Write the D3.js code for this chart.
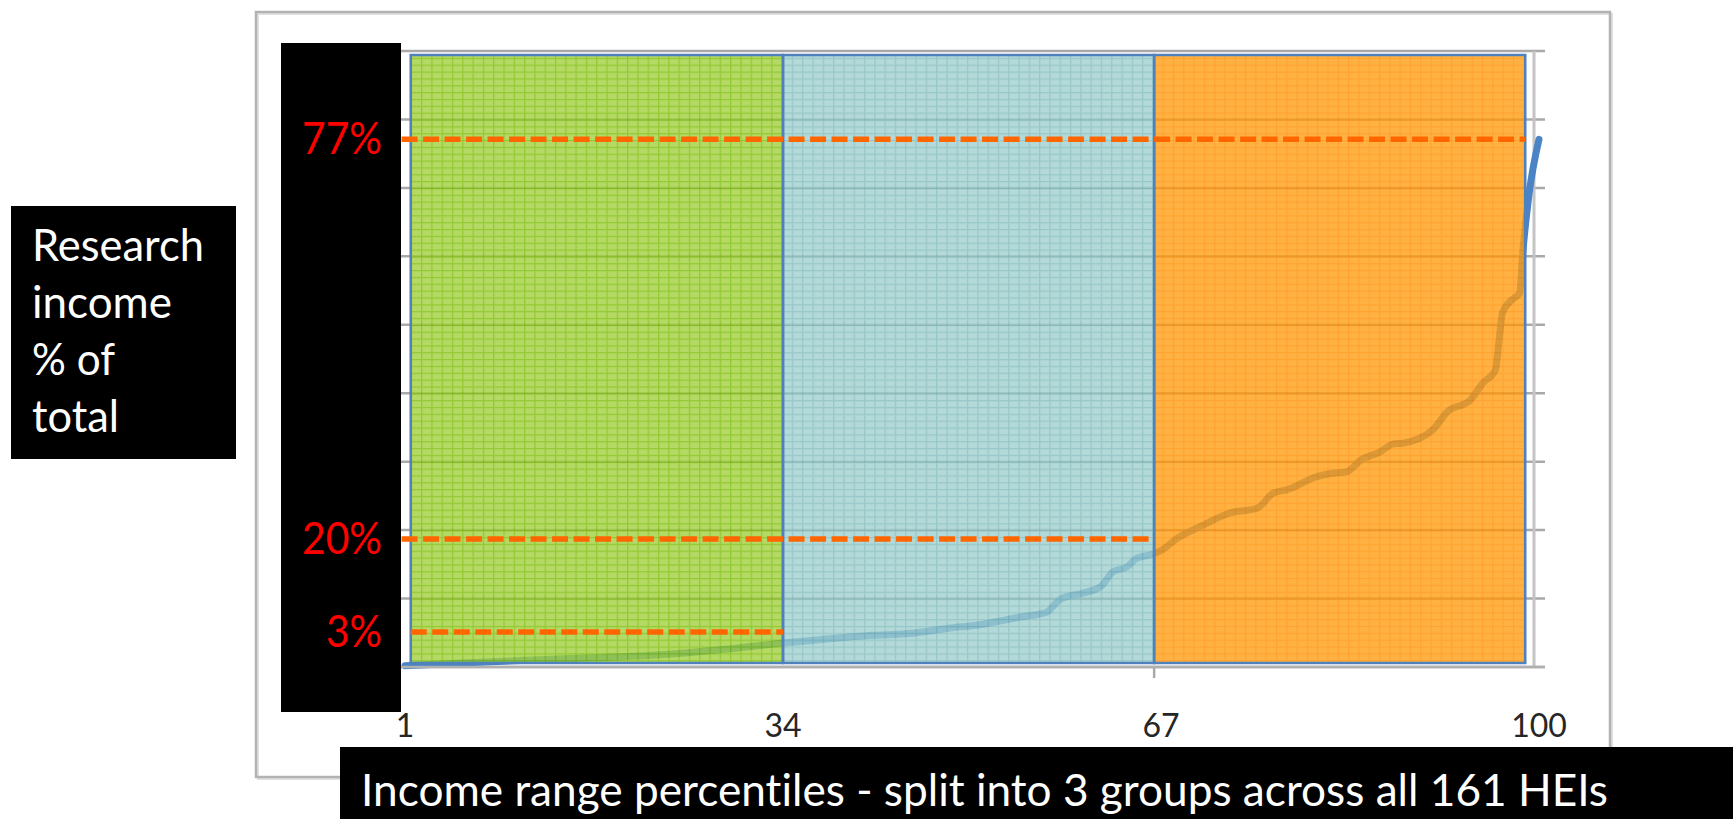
<!DOCTYPE html>
<html>
<head>
<meta charset="utf-8">
<script src="https://cdn.jsdelivr.net/npm/d3@7"></script>
<style>
  html, body { margin: 0; padding: 0; background: #ffffff; }
  svg { display: block; }
  text { font-variant-ligatures: none; }
</style>
</head>
<body>
<svg id="chart" width="1733" height="819"></svg>
<script>
// ---------------- DATA ----------------
// Curve: percentile position (x) and research income % (y, value-axis units)
const curvePercentile = [1, 6, 15, 23, 29, 34, 40.7, 45.7, 48.6, 50.9, 52.9, 54.7, 57.0, 58.2, 60.2, 61.7,
  62.8, 64.0, 64.9, 66.3, 67.1, 68.4, 70.4, 73.0, 75.4, 76.8, 78.0, 80.6, 82.0, 83.2, 84.4, 86.1,
  87.3, 88.1, 90.7, 92.0, 94.0, 95.1, 96.2, 96.5, 96.8, 97.6, 98.3, 98.6, 99.1, 100];
const curveValue = [0.2, 0.6, 1.2, 1.75, 2.6, 3.5, 4.5, 5.0, 5.7, 6.1, 6.7, 7.3, 8.0, 9.9, 10.8, 11.7,
  13.9, 14.6, 15.9, 16.5, 17.1, 18.8, 20.5, 22.5, 23.2, 25.4, 25.9, 27.8, 28.3, 28.5, 30.2, 31.4,
  32.6, 32.7, 34.6, 37.3, 39.0, 41.5, 43.4, 47.5, 51.7, 53.6, 54.6, 60.9, 68.7, 77.1];

// Value-axis gridline values
const yTicks = [0, 10, 20, 30, 40, 50, 60, 70, 80, 90];

// Category tick labels
const xTickLabels = [1, 34, 67, 100];

// Three income groups (percentile extents)
const groupStart = [1.5, 34, 66.4];
const groupEnd = [34, 66.4, 98.8];
const groupFill = ["#a2d03e", "#a0cfcf", "#ff9f13"];
const groupGrid = ["#78bb00", "#7fbaba", "#ff8c00"];

// Reference (dashed) levels
const refLabels = ["77%", "20%", "3%"];
const refLevel = [77.1, 18.7, 5.1];
const refStart = [0.7, 0.7, 1.5];
const refEnd = [98.8, 66.4, 34];

// Texts
const yTitleLines = ["Research", "income", "% of", "total"];
const xTitle = "Income range percentiles - split into 3 groups across all 161 HEIs";

// ---------------- LAYOUT ----------------
const svg = d3.select("#chart");
const FONT = "Lato, 'Open Sans', 'Noto Sans', sans-serif";

const x = d3.scaleLinear().domain([1, 100]).range([405, 1539]);
const y = d3.scaleLinear().domain([0, 90]).range([667, 51]);

const gridLeft = 385, tickRight = 1545, axisX = 1534;

// Outer chart frame
svg.append("rect").attr("x", 258).attr("y", 14).attr("width", 1354).attr("height", 765)
  .attr("fill", "none").attr("stroke", "#e0e0e0").attr("stroke-width", 2);
svg.append("rect").attr("x", 256).attr("y", 12).attr("width", 1354).attr("height", 765)
  .attr("fill", "none").attr("stroke", "#b2b2b2").attr("stroke-width", 2.5);

// Patterns for fills
const defs = svg.append("defs");
const cellW = 10.3, cellH = (y(0) - y(10)) / 10;
groupFill.forEach((c, i) => {
  const p = defs.append("pattern").attr("id", "pat" + i)
    .attr("patternUnits", "userSpaceOnUse")
    .attr("x", x(groupStart[0])).attr("y", y(90))
    .attr("width", cellW).attr("height", cellH);
  p.append("rect").attr("width", cellW).attr("height", cellH).attr("fill", c);
  p.append("path").attr("d", `M0,0.6H${cellW}M0.6,0V${cellH}`)
    .attr("stroke", groupGrid[i]).attr("stroke-width", 1.3).attr("fill", "none");
});

// Gridlines
svg.append("g").selectAll("line").data(yTicks).join("line")
  .attr("x1", gridLeft).attr("x2", tickRight)
  .attr("y1", d => y(d)).attr("y2", d => y(d))
  .attr("stroke", "#a9a9a9").attr("stroke-width", 2.5);

// Right value axis line
svg.append("line").attr("x1", axisX).attr("x2", axisX)
  .attr("y1", y(90)).attr("y2", y(0))
  .attr("stroke", "#c4c4c4").attr("stroke-width", 3);

// Bottom axis tick
svg.append("line").attr("x1", x(groupEnd[1])).attr("x2", x(groupEnd[1]))
  .attr("y1", y(0)).attr("y2", y(0) + 11)
  .attr("stroke", "#a9a9a9").attr("stroke-width", 2.5);

// Curve
const pts = curvePercentile.map((p, i) => [p, curveValue[i]]);
svg.append("path").datum(pts)
  .attr("d", d3.line().x(d => x(d[0])).y(d => y(d[1])).curve(d3.curveMonotoneX))
  .attr("fill", "none").attr("stroke", "#4a84c6").attr("stroke-width", 7)
  .attr("stroke-linecap", "round").attr("stroke-linejoin", "round");

// Group regions (semi-transparent over the line)
const inset = 4;
const groups = groupStart.map((s, i) => ({ s, e: groupEnd[i], i }));
svg.append("g").selectAll("rect").data(groups).join("rect")
  .attr("x", d => x(d.s)).attr("width", d => x(d.e) - x(d.s))
  .attr("y", y(90) + inset).attr("height", y(0) - y(90) - 2 * inset)
  .attr("fill", d => `url(#pat${d.i})`).attr("opacity", 0.8);
svg.append("g").selectAll("rect").data(groups).join("rect")
  .attr("x", d => x(d.s)).attr("width", d => x(d.e) - x(d.s))
  .attr("y", y(90) + inset).attr("height", y(0) - y(90) - 2 * inset)
  .attr("fill", "none").attr("stroke", "#4f81bd").attr("stroke-width", 2.5);

// Bottom axis line
svg.append("line").attr("x1", 400).attr("x2", tickRight)
  .attr("y1", y(0)).attr("y2", y(0))
  .attr("stroke", "#b0b0b0").attr("stroke-width", 2.5);

// Dashed reference lines
svg.append("g").selectAll("line").data(refLevel).join("line")
  .attr("x1", (d, i) => x(refStart[i])).attr("x2", (d, i) => x(refEnd[i]))
  .attr("y1", d => y(d)).attr("y2", d => y(d))
  .attr("stroke", "#ff6600").attr("stroke-width", 5.5)
  .attr("stroke-dasharray", "16 5.5");

// Black column behind the red labels
svg.append("rect").attr("x", 281).attr("y", 43).attr("width", 120).attr("height", 669).attr("fill", "#000");

// Red level labels
svg.append("g").selectAll("text").data(refLabels).join("text")
  .attr("x", 382).attr("y", (d, i) => y(refLevel[i]) + 15)
  .attr("text-anchor", "end")
  .attr("font-family", FONT).attr("font-size", 44)
  .attr("fill", "#ff0000")
  .attr("textLength", d => d.length === 3 ? 80 : 56)
  .attr("lengthAdjust", "spacingAndGlyphs")
  .text(d => d);

// Left title box
svg.append("rect").attr("x", 11).attr("y", 206).attr("width", 225).attr("height", 253).attr("fill", "#000");
const yTitleWidths = [172, 140, 83, 87];
svg.append("g").selectAll("text").data(yTitleLines).join("text")
  .attr("x", 32).attr("y", (d, i) => 261 + i * 57)
  .attr("font-family", FONT).attr("font-size", 44).attr("fill", "#fff")
  .attr("textLength", (d, i) => yTitleWidths[i]).attr("lengthAdjust", "spacingAndGlyphs")
  .text(d => d);

// X tick labels
svg.append("g").selectAll("text").data(xTickLabels).join("text")
  .attr("x", d => x(d)).attr("y", 737)
  .attr("text-anchor", "middle")
  .attr("font-family", FONT).attr("font-size", 32).attr("fill", "#262626")
  .text(d => d);

// Bottom title box
svg.append("rect").attr("x", 340).attr("y", 747).attr("width", 1393).attr("height", 72).attr("fill", "#000");
svg.append("text").attr("x", 361).attr("y", 806)
  .attr("font-family", FONT).attr("font-size", 45).attr("fill", "#fff")
  .attr("textLength", 1247).attr("lengthAdjust", "spacingAndGlyphs")
  .text(xTitle);
</script>
</body>
</html>
